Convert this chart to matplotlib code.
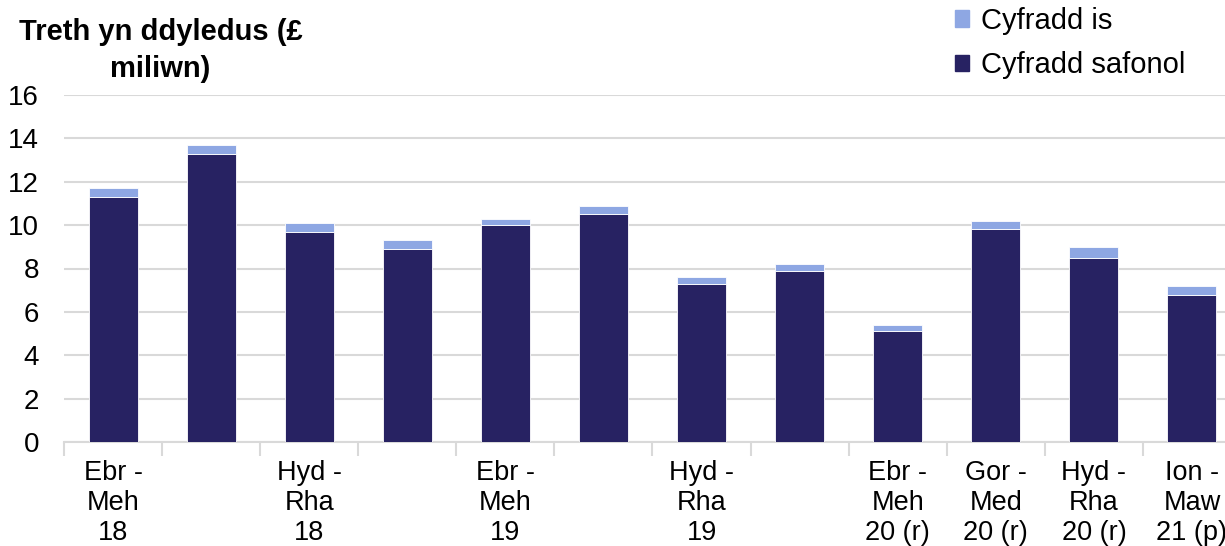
import matplotlib
matplotlib.use("Agg")
import matplotlib.pyplot as plt
import numpy as np
from matplotlib.patches import Patch

plt.rcParams["font.family"] = ["Liberation Sans", "DejaVu Sans"]

labels = [
    "Ebr -\nMeh\n18", "", "Hyd -\nRha\n18", "",
    "Ebr -\nMeh\n19", "", "Hyd -\nRha\n19", "",
    "Ebr -\nMeh\n20 (r)", "Gor -\nMed\n20 (r)", "Hyd -\nRha\n20 (r)", "Ion -\nMaw\n21 (p)",
]
standard = [11.3, 13.3, 9.7, 8.9, 10.0, 10.5, 7.3, 7.9, 5.1, 9.8, 8.5, 6.8]
reduced = [0.4, 0.4, 0.4, 0.4, 0.3, 0.4, 0.3, 0.3, 0.3, 0.4, 0.5, 0.4]

dark = "#272262"
light = "#8EA7E3"

fig = plt.figure(figsize=(12.25, 5.46), dpi=100)
ax = fig.add_axes([64 / 1225, 104 / 546, 1177 / 1225, 347 / 546])

x = np.arange(len(labels))
ax.bar(x, standard, width=0.5, color=dark, edgecolor="white", linewidth=0.6, zorder=3)
ax.bar(x, reduced, width=0.5, bottom=standard, color=light, edgecolor="white",
       linewidth=0.6, zorder=3)

ax.set_xlim(-0.5, len(labels) - 0.5)
ax.set_ylim(0, 16)
ax.set_yticks(range(0, 17, 2))
ax.yaxis.grid(True, color="#D9D9D9", linewidth=1.5, zorder=0)
ax.tick_params(axis="y", length=0, labelsize=20, pad=18)

ax.set_xticks(x)
ax.set_xticklabels(labels, fontsize=19.5, linespacing=1.2)
ax.set_xticks(np.arange(-0.5, len(labels), 1), minor=True)
ax.tick_params(axis="x", which="major", length=0, pad=13)
ax.tick_params(axis="x", which="minor", length=10, color="#D9D9D9", width=1.5)

for side in ["top", "right", "left"]:
    ax.spines[side].set_visible(False)
ax.spines["bottom"].set_color("#D9D9D9")
ax.spines["bottom"].set_linewidth(1.5)

fig.text(0.131, 0.907, "Treth yn ddyledus (£\nmiliwn)", ha="center", va="center",
         fontsize=21, fontweight="bold", linespacing=1.4)

handles = [Patch(color=light, label="Cyfradd is"), Patch(color=dark, label="Cyfradd safonol")]
fig.legend(handles=handles, loc="upper left", bbox_to_anchor=(0.758, 1.035), frameon=False,
           fontsize=21, handlelength=0.5, handleheight=0.5, handletextpad=0.4,
           labelspacing=0.55)

fig.savefig("out.png", dpi=100)
